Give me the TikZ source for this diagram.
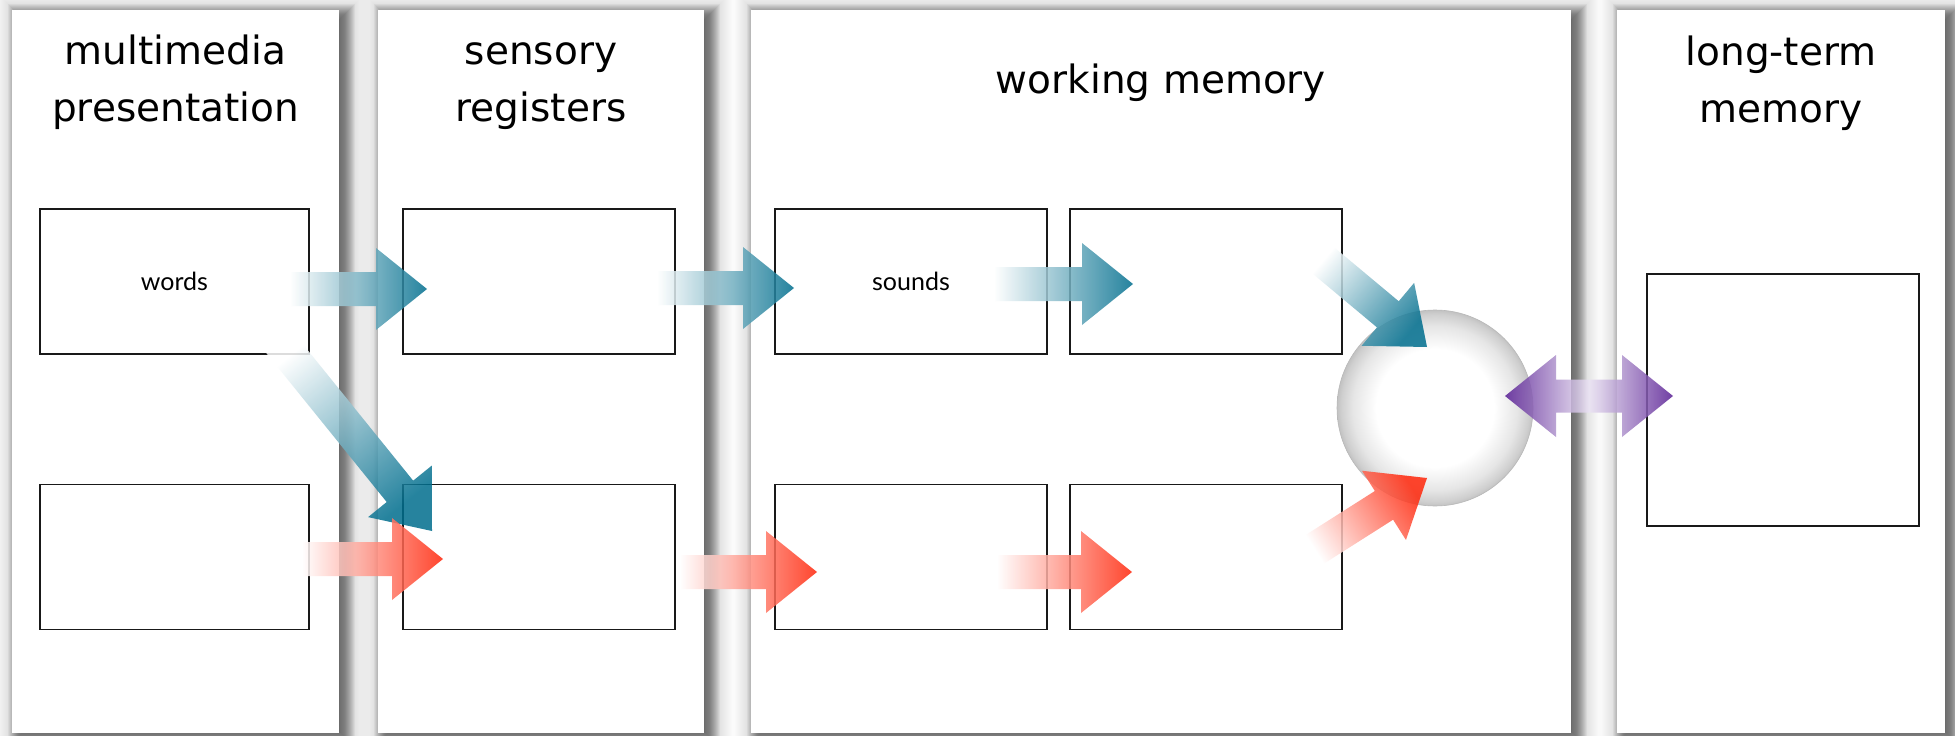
\documentclass[tikz,border=0pt]{standalone}
\usepackage{fontspec}
\setmainfont{DejaVu Sans}
\newfontfamily\labelfont{Lato}
\usetikzlibrary{calc,backgrounds}
\definecolor{ablue}{RGB}{0,110,142}
\definecolor{ared}{RGB}{255,38,10}
\definecolor{apurple}{RGB}{88,30,148}
\definecolor{alav}{RGB}{234,226,243}
\pgfdeclareradialshading{hubring}{\pgfpoint{0bp}{0bp}}{color(0bp)=(white); color(15bp)=(white); color(21bp)=(black!10); color(24bp)=(black!19); color(25bp)=(black!24); color(50bp)=(black!24)}
\newcommand\blockarrow[4]{%
  \coordinate (bab) at ($(#2)!51pt!(#1)$);
  \shade[top color=white, bottom color=#3, shading angle=#4, fill opacity=0.85]
    ($(#1)!17pt!90:(#2)$) -- ($(bab)!17pt!90:(#2)$) -- ($(bab)!41pt!90:(#2)$) -- (#2)
    -- ($(bab)!41pt!-90:(#2)$) -- ($(bab)!17pt!-90:(#2)$) -- ($(#1)!17pt!-90:(#2)$) -- cycle;
}
\begin{document}
\begin{tikzpicture}[x=1pt,y=-1pt,
  panel/.style={fill=white, inner sep=0pt, outer sep=0pt, minimum height=723pt},
  title/.style={font=\fontsize{39}{57}\selectfont, align=center, anchor=base, inner sep=0pt},
  box/.style={draw=black!90, line width=1.1pt, fill=white, inner sep=0pt, minimum height=145pt, font=\labelfont\fontsize{25}{30}\selectfont},
  hub/.style={circle, minimum size=196pt, inner sep=0pt, shade, shading=hubring, draw=black!28, line width=0.6pt}]
\useasboundingbox (0,0) rectangle (1955,736);
% panels
\node[panel, minimum width=327pt] (p1) at (175.5,371.5) {};
\node[panel, minimum width=326pt] (p2) at (541,371.5) {};
\node[panel, minimum width=820pt] (p3) at (1161,371.5) {};
\node[panel, minimum width=328pt] (p4) at (1781,371.5) {};
\begin{pgfonlayer}{background}
  \fill[white] (0,0) rectangle (1955,736);
  \foreach \p in {p1,p2,p3,p4}{
    \foreach \e in {-8,...,10}{
      \fill[black, fill opacity=0.045] ($(\p.north west)+(6-\e,4-\e)$) rectangle ($(\p.south east)+(6+\e,4+\e)$);
    }
    \foreach \e in {11,...,24}{
      \fill[black, fill opacity=0.009] ($(\p.north west)+(6-\e,4-\e)$) rectangle ($(\p.south east)+(6+\e,4+\e)$);
    }
  }
\end{pgfonlayer}
% titles (anchor base = last line)
\node[title] (t1) at (175.5,121) {multimedia\\presentation};
\node[title] (t2) at (541,121) {sensory\\registers};
\node[title] (t3) at (1161,93) {working memory};
\node[title] (t4) at (1781,122) {long-term\\memory};
% boxes
\node[box, minimum width=269pt] (b1) at (174.5,281.5) {words};
\node[box, minimum width=272pt] (b2) at (539,281.5) {};
\node[box, minimum width=272pt] (b3) at (911,281.5) {sounds};
\node[box, minimum width=272pt] (b4) at (1206,281.5) {};
\node[box, minimum width=269pt] (b5) at (174.5,557) {};
\node[box, minimum width=272pt] (b6) at (539,557) {};
\node[box, minimum width=272pt] (b7) at (911,557) {};
\node[box, minimum width=272pt] (b8) at (1206,557) {};
\node[box, minimum width=272pt, minimum height=252pt] (ltm) at (1783,400) {};
% hub
\node[hub] (hub) at (1435,408) {};
% arrow end points
\coordinate (a1t) at (290,289);  \coordinate (a1h) at (427,289);
\coordinate (a2t) at (657,288);  \coordinate (a2h) at (794,288);
\coordinate (a3t) at (994,284);  \coordinate (a3h) at (1133,284);
\coordinate (a4t) at (276,338);  \coordinate (a4h) at (432,531);
\coordinate (a5t) at (302,559);  \coordinate (a5h) at (443,559);
\coordinate (a6t) at (680,572);  \coordinate (a6h) at (817,572);
\coordinate (a7t) at (997,572);  \coordinate (a7h) at (1132,572);
\coordinate (a8t) at (1318,256); \coordinate (a8h) at (1427,347);
\coordinate (a9t) at (1309,553); \coordinate (a9h) at (1427,478);
\coordinate (pl) at (1505,396);  \coordinate (pr) at (1673,396);
% arrows
\blockarrow{a1t}{a1h}{ablue}{90}
\blockarrow{a2t}{a2h}{ablue}{90}
\blockarrow{a3t}{a3h}{ablue}{90}
\blockarrow{a4t}{a4h}{ablue}{39}
\blockarrow{a5t}{a5h}{ared}{90}
\blockarrow{a6t}{a6h}{ared}{90}
\blockarrow{a7t}{a7h}{ared}{90}
\blockarrow{a8t}{a8h}{ablue}{50}
\blockarrow{a9t}{a9h}{ared}{122.5}
\shade[left color=apurple, right color=apurple, middle color=alav, fill opacity=0.85]
  (pl) -- ($(pl)+(51,-41)$) -- ($(pl)+(51,-16.5)$) -- ($(pr)+(-51,-16.5)$) -- ($(pr)+(-51,-41)$) -- (pr)
  -- ($(pr)+(-51,41)$) -- ($(pr)+(-51,16.5)$) -- ($(pl)+(51,16.5)$) -- ($(pl)+(51,41)$) -- cycle;
\end{tikzpicture}
\end{document}
